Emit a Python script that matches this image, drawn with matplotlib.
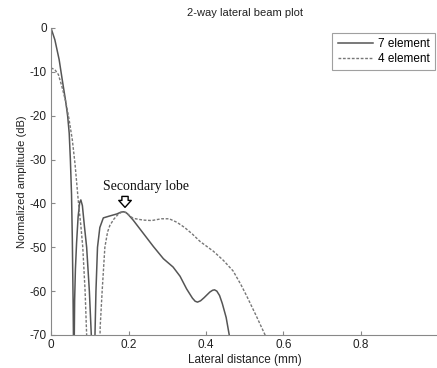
import matplotlib
matplotlib.use("Agg")
import matplotlib.pyplot as plt

plt.rcParams["font.family"] = ["Liberation Sans", "DejaVu Sans"]
plt.rcParams["axes.unicode_minus"] = False

# 7 element (solid)
x7 = [0.0, 0.010, 0.021, 0.029, 0.038, 0.043, 0.047, 0.050, 0.053, 0.055, 0.057, 0.059,
      0.061, 0.063, 0.066, 0.070, 0.074, 0.077, 0.081, 0.086, 0.092, 0.099, 0.105, 0.109,
      0.113, 0.116, 0.120, 0.126, 0.135, 0.150, 0.170, 0.180, 0.187, 0.194, 0.200, 0.212,
      0.238, 0.264, 0.290, 0.315, 0.333, 0.350, 0.365, 0.372, 0.378, 0.386, 0.395, 0.410,
      0.417, 0.422, 0.428, 0.435, 0.442, 0.452, 0.460, 0.465]
y7 = [0.0, -2.7, -7.2, -11.8, -16.8, -20.1, -24.0, -30.0, -38.0, -48.0, -62.0, -80.0,
      -62.0, -55.0, -49.0, -43.0, -39.8, -39.2, -40.5, -45.0, -50.0, -60.0, -72.0, -85.0,
      -72.0, -60.0, -50.0, -45.5, -43.3, -42.9, -42.4, -42.0, -41.9, -42.1, -42.6, -43.8,
      -46.8, -49.8, -52.6, -54.5, -56.6, -59.5, -61.6, -62.3, -62.5, -62.2, -61.5, -60.2,
      -59.8, -59.7, -60.0, -61.0, -62.8, -66.0, -70.0, -75.0]

# 4 element (dashed)
x4 = [0.0, 0.010, 0.019, 0.028, 0.038, 0.046, 0.055, 0.062, 0.067, 0.071, 0.077, 0.082,
      0.088, 0.092, 0.095, 0.110, 0.124, 0.127, 0.132, 0.139, 0.146, 0.152, 0.162, 0.172,
      0.180, 0.187, 0.194, 0.200, 0.212, 0.238, 0.260, 0.285, 0.305, 0.325, 0.345, 0.365,
      0.385, 0.419, 0.445, 0.470, 0.490, 0.505, 0.530, 0.552, 0.560]
y4 = [-9.1, -9.5, -10.6, -13.3, -16.8, -20.5, -25.5, -31.0, -36.0, -40.0, -45.0, -50.0,
      -60.0, -70.0, -80.0, -90.0, -80.0, -68.0, -60.0, -50.0, -46.5, -45.0, -43.6, -42.6,
      -42.1, -41.9, -42.1, -42.6, -43.4, -43.8, -43.9, -43.5, -43.5, -44.3, -45.5, -47.0,
      -48.7, -50.9, -53.0, -55.4, -58.5, -61.1, -65.7, -69.9, -72.0]

xticks = [0, 0.2, 0.4, 0.6, 0.8]
xticklabels = ["0", "0.2", "0.4", "0.6", "0.8"]
yticks = [0, -10, -20, -30, -40, -50, -60, -70]

lobe_x = 0.191
lobe_text_x, lobe_text_y = 0.245, -37.0
arrow_top, arrow_tip = -38.4, -40.9

W, H = 437, 368
fig = plt.figure(figsize=(W / 100, H / 100), dpi=100)
ax = fig.add_axes([51 / W, (H - 335) / H, 387.5 / W, 307 / H])

ax.plot(x7, y7, color="#555555", lw=1.1, label="7 element")
ax.plot(x4, y4, color="#777777", lw=1.0, ls=(0, (2, 1.2)), label="4 element")

ax.set_xlim(0, 1)
ax.set_ylim(-70, 0)
ax.set_xticks(xticks)
ax.set_xticklabels(xticklabels)
ax.set_yticks(yticks)
ax.tick_params(direction="in", length=3, labelsize=8.5, colors="#222222", pad=3)
for s in ["top", "right"]:
    ax.spines[s].set_visible(False)
for s in ["left", "bottom"]:
    ax.spines[s].set_color("#888888")
    ax.spines[s].set_linewidth(0.8)
ax.tick_params(color="#888888")

ax.set_title("2-way lateral beam plot", fontsize=8, color="#222222", pad=9)
ax.set_xlabel("Lateral distance (mm)", fontsize=8.5, color="#222222", labelpad=2)
ax.set_ylabel("Normalized amplitude (dB)", fontsize=8, color="#222222", labelpad=2)

ax.text(lobe_text_x, lobe_text_y, "Secondary lobe", family="Liberation Serif",
        fontsize=10, ha="center", va="baseline", color="#111111")
ax.annotate("", xy=(lobe_x, arrow_tip), xytext=(lobe_x, arrow_top),
            arrowprops=dict(arrowstyle="simple,head_length=0.5,head_width=0.9,tail_width=0.45",
                            fc="white", ec="black", lw=1.0, shrinkA=0, shrinkB=0))

leg = ax.legend(loc="upper right", bbox_to_anchor=(435 / W, 1 - 33 / H),
                bbox_transform=fig.transFigure, fontsize=8.5, frameon=True,
                fancybox=False, handlelength=3.0, handletextpad=0.4,
                borderpad=0.45, labelspacing=0.2, borderaxespad=0)
leg.get_frame().set_edgecolor("#888888")
leg.get_frame().set_linewidth(0.8)

fig.savefig("out.png", dpi=100)
